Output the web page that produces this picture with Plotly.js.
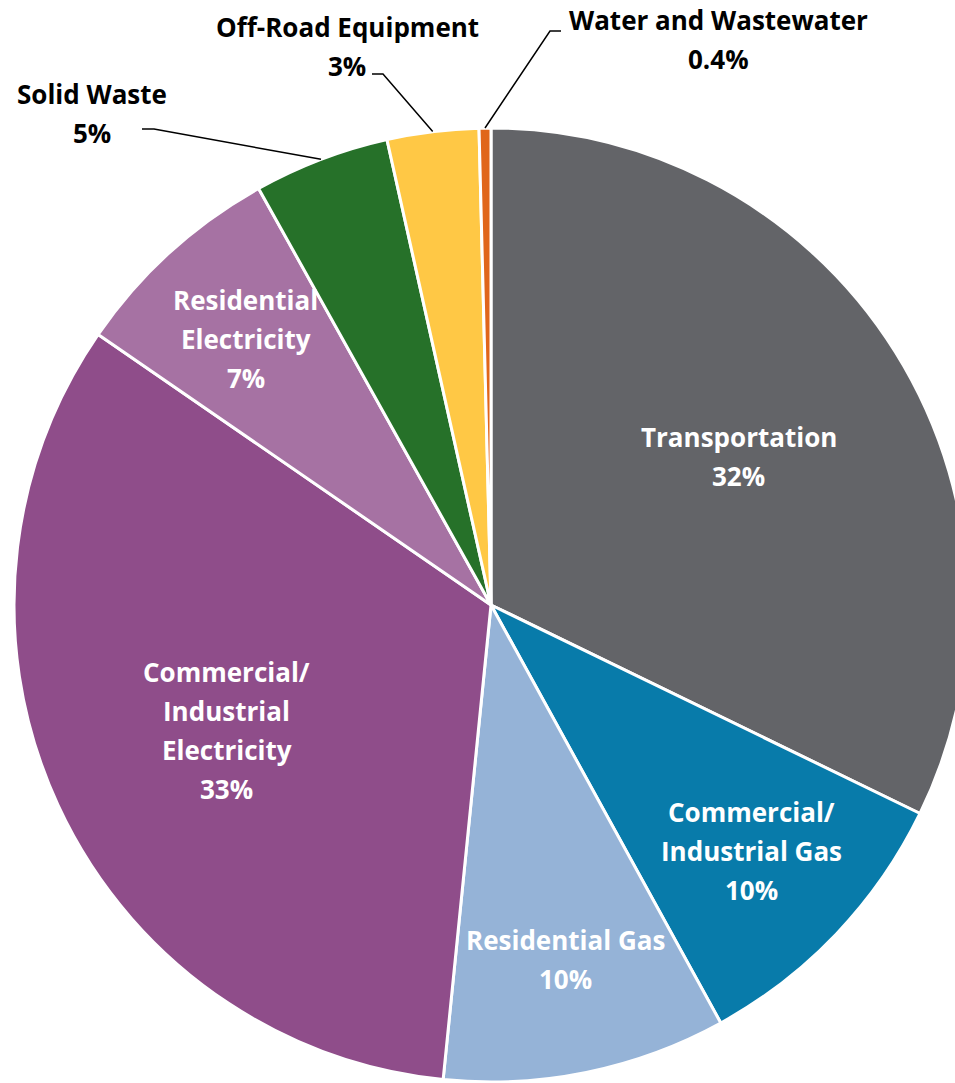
<!DOCTYPE html>
<html>
<head>
<meta charset="utf-8">
<script src="https://cdn.plot.ly/plotly-3.0.1.min.js"></script>
<style>
html,body{margin:0;padding:0;overflow:hidden;background:#fff;}
#chart{width:980px;height:1083px;}
</style>
</head>
<body>
<div id="chart"></div>
<script>
// ---- data ----
const categories = ["Transportation", "Commercial/<br>Industrial Gas", "Residential Gas",
  "Commercial/<br>Industrial<br>Electricity", "Residential<br>Electricity",
  "Solid Waste", "Off-Road Equipment", "Water and Wastewater"];
const values = [32.2, 9.8, 9.6, 33.0, 7.3, 4.6, 3.1, 0.4];
const colors = ["#636468", "#087BAA", "#95B3D7", "#8F4D8A", "#A672A3", "#267129", "#FFC845", "#E0661B"];

// ---- layout config (positions / styles only) ----
const W = 980, H = 1083;
const cx = 491, cy = 605, R = 477;
const lineGap = 39;
const fontFamily = "'Open Sans', 'Noto Sans', sans-serif";
const fontSize = 26;
// inside labels: radial fraction of radius, plus small pixel nudge
const insideR = {0: 0.608, 1: 0.753, 2: 0.763, 3: 0.611, 4: 0.764};
const insideNudge = {0: [2, 5], 1: [0, -2], 2: [2, -2], 3: [0, 3], 4: [0, 4]};
// outside labels: text centre (px) and leader start/elbow (px)
const outside = {
  5: {x: 92, y: 113, start: [142, 129], elbow: [154, 129]},
  6: {x: 347, y: 46, start: [372, 74], elbow: [383, 74]},
  7: {x: 718, y: 40, start: [561, 31], elbow: [550, 31]}
};

function px2paper(px, py) { return [px / W, 1 - py / H]; }

const total = values.reduce((a, b) => a + b, 0);
const pctText = values.map(v => {
  const p = v / total * 100;
  return (p < 1 ? p.toFixed(1) : Math.round(p)) + "%";
});

const annotations = [];
const shapes = [];
let cum = 0;
values.forEach((v, i) => {
  const mid = (cum + v / 2) / total * 2 * Math.PI;
  cum += v;
  const lines = categories[i].split("<br>").concat([pctText[i]]);
  let tx, ty, color;
  if (insideR[i] !== undefined) {
    tx = cx + insideR[i] * R * Math.sin(mid) + insideNudge[i][0];
    ty = cy - insideR[i] * R * Math.cos(mid) + insideNudge[i][1];
    color = "#FFFFFF";
  } else {
    const o = outside[i];
    tx = o.x; ty = o.y; color = "#000000";
    const ex = cx + R * Math.sin(mid), ey = cy - R * Math.cos(mid);
    const a = px2paper(o.start[0], o.start[1]);
    const b = px2paper(o.elbow[0], o.elbow[1]);
    const c = px2paper(ex, ey);
    shapes.push({
      type: "path", xref: "paper", yref: "paper",
      path: `M ${a[0]},${a[1]} L ${b[0]},${b[1]} L ${c[0]},${c[1]}`,
      line: {color: "#000000", width: 1.5}
    });
  }
  const p = px2paper(tx, ty);
  const n = lines.length;
  lines.forEach((ln, k) => {
    annotations.push({
      xref: "paper", yref: "paper", x: p[0], y: p[1],
      xanchor: "center", yanchor: "middle", showarrow: false,
      yshift: ((n - 1) / 2 - k) * lineGap,
      text: "<b>" + ln + "</b>",
      font: {family: fontFamily, size: fontSize, color: color}
    });
  });
});

const trace = {
  type: "pie",
  labels: categories.map(c => c.replace(/<br>/g, " ")),
  values: values,
  sort: false,
  direction: "clockwise",
  rotation: 0,
  textinfo: "none",
  hoverinfo: "none",
  marker: {colors: colors, line: {color: "#FFFFFF", width: 3}},
  domain: {x: [(cx - R) / W, (cx + R) / W], y: [(H - cy - R) / H, (H - cy + R) / H]},
  showlegend: false
};

const layout = {
  width: W, height: H,
  margin: {l: 0, r: 0, t: 0, b: 0},
  paper_bgcolor: "#FFFFFF",
  showlegend: false,
  annotations: annotations,
  shapes: shapes
};

Plotly.newPlot("chart", [trace], layout, {displayModeBar: false, staticPlot: true});
</script>
</body>
</html>
